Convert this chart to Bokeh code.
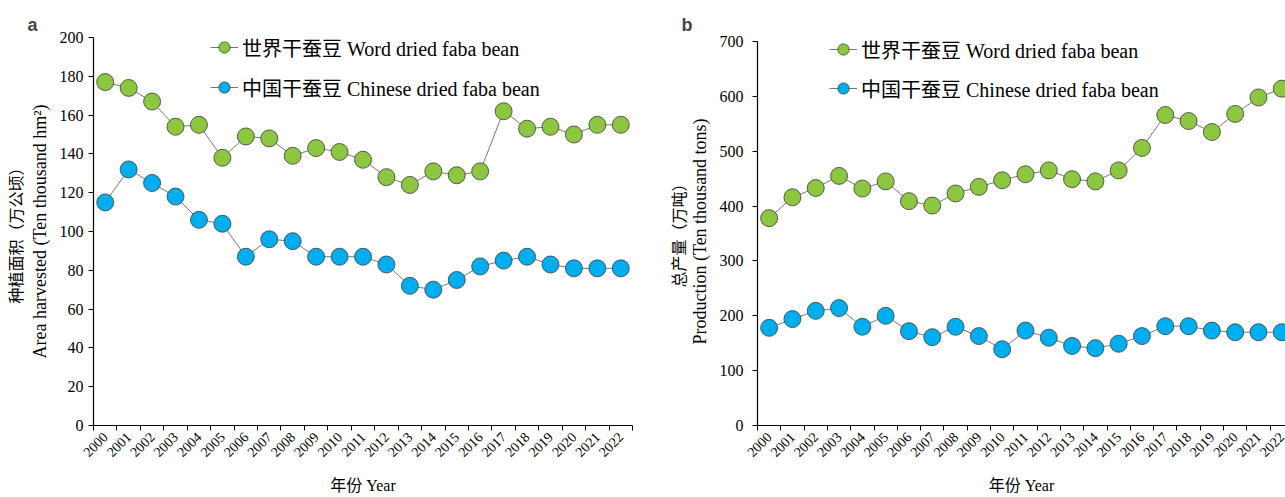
import math
from bokeh.plotting import figure
from bokeh.layouts import row
from bokeh.models import FixedTicker, Legend, LegendItem, ColumnDataSource, Range1d, Title
from bokeh.embed import file_html
from bokeh.resources import INLINE

# ---------------- data ----------------
years = list(range(2000, 2023))
year_labels = [str(y) for y in years]

area_world = [177, 174, 167, 154, 155, 138, 149, 148, 139, 143, 141, 137,
              128, 124, 131, 129, 131, 162, 153, 154, 150, 155, 155]
area_china = [115, 132, 125, 118, 106, 104, 87, 96, 95, 87, 87, 87,
              83, 72, 70, 75, 82, 85, 87, 83, 81, 81, 81]

prod_world = [378, 416, 433, 455, 432, 445, 409, 401, 423, 435, 447, 458,
              465, 449, 445, 465, 506, 566, 555, 535, 568, 598, 614]
prod_china = [178, 194, 209, 214, 180, 200, 172, 161, 180, 163, 139, 173,
              160, 145, 141, 149, 163, 181, 181, 173, 170, 170, 170]

world_label = "世界干蚕豆 Word dried faba bean"
china_label = "中国干蚕豆 Chinese dried faba bean"
x_title = "年份 Year"

SERIF = "Liberation Serif, Noto Sans CJK SC"
CJK = "Noto Sans CJK SC"
SANS_B = "Liberation Sans"
GREEN = "#8DC63F"
BLUE = "#00AEEF"
H = 497
TOP = 37


def panel(width, L, R, B, x_end, y_max, y_pad, y_step, world, china,
          letter, letter_offset, letter_standoff, cn_title, en_title,
          tick_standoff, en_standoff, cn_standoff, cn_offset,
          legend_loc, legend_spacing):
    p = figure(width=width, height=H, x_range=Range1d(0, x_end),
               y_range=Range1d(0, y_max + y_pad), output_backend="svg",
               toolbar_location=None,
               min_border_left=L, min_border_right=width - R,
               min_border_top=TOP, min_border_bottom=H - B)
    p.outline_line_color = None
    p.grid.visible = False
    p.background_fill_color = "white"
    p.border_fill_color = "white"

    # panel letter
    p.title.text = letter
    p.title.align = "left"
    p.title.offset = letter_offset
    p.title.text_font = SANS_B
    p.title.text_font_style = "bold"
    p.title.text_font_size = "18px"
    p.title.standoff = letter_standoff

    xs = [i + 0.5 for i in range(len(years))]
    src = ColumnDataSource(dict(x=xs, world=world, china=china))

    lw = p.line("x", "world", source=src, line_color="#777777", line_width=1)
    sw = p.scatter("x", "world", source=src, size=17, fill_color=GREEN,
                   line_color="#3a3a3a", line_width=0.8)
    lc = p.line("x", "china", source=src, line_color="#777777", line_width=1)
    sc = p.scatter("x", "china", source=src, size=17, fill_color=BLUE,
                   line_color="#3a3a3a", line_width=0.8)

    # x axis: labels centred in categories, ticks at boundaries
    xa = p.xaxis[0]
    xa.ticker = FixedTicker(ticks=xs, minor_ticks=list(range(len(years) + 1)))
    xa.major_label_overrides = {x: lab for x, lab in zip(xs, year_labels)}
    xa.major_tick_out = 0
    xa.major_tick_in = 0
    xa.minor_tick_out = 5
    xa.minor_tick_in = 0
    xa.minor_tick_line_color = "black"
    xa.major_label_orientation = math.pi / 4
    xa.major_label_text_font = SERIF
    xa.major_label_text_font_size = "14px"
    xa.major_label_text_color = "black"
    xa.major_label_standoff = 4
    xa.axis_line_color = "black"
    xa.axis_line_width = 1.2
    xa.axis_label = x_title
    xa.axis_label_text_font = SERIF
    xa.axis_label_text_font_size = "16px"
    xa.axis_label_text_font_style = "normal"
    xa.axis_label_text_color = "black"
    xa.axis_label_standoff = 13

    ya = p.yaxis[0]
    ya.ticker = FixedTicker(ticks=list(range(0, y_max + 1, y_step)))
    ya.bounds = (0, y_max)
    ya.minor_tick_line_color = None
    ya.major_tick_out = 5
    ya.major_tick_in = 0
    ya.major_tick_line_color = "black"
    ya.major_label_text_font = SERIF
    ya.major_label_text_font_size = "16px"
    ya.major_label_text_color = "black"
    ya.major_label_standoff = tick_standoff
    ya.axis_line_color = "black"
    ya.axis_line_width = 1.2
    ya.axis_label = en_title
    ya.axis_label_text_font = SERIF
    ya.axis_label_text_font_size = "18px"
    ya.axis_label_text_font_style = "normal"
    ya.axis_label_text_color = "black"
    ya.axis_label_standoff = en_standoff

    p.add_layout(Title(text=cn_title, align="center", text_font=CJK,
                       text_font_size="16px", text_font_style="normal",
                       text_color="black", standoff=cn_standoff,
                       offset=cn_offset), "left")

    legend = Legend(items=[LegendItem(label=world_label, renderers=[lw, sw]),
                           LegendItem(label=china_label, renderers=[lc, sc])],
                    location=legend_loc, border_line_color=None,
                    background_fill_alpha=0, padding=0, margin=0,
                    spacing=legend_spacing,
                    glyph_width=28, glyph_height=30, label_standoff=4,
                    label_text_font=SERIF, label_text_font_size="20px",
                    label_text_color="black")
    p.add_layout(legend, "center")
    return p


p1 = panel(width=640, L=93, R=632, B=427, x_end=23,
           y_max=200, y_pad=0, y_step=20, world=area_world, china=area_china,
           letter="a", letter_offset=-66, letter_standoff=6,
           cn_title="种植面积（万公顷）",
           en_title="Area harvested (Ten thousand hm²)",
           tick_standoff=5, en_standoff=7, cn_standoff=0, cn_offset=-9,
           legend_loc=(117, 323), legend_spacing=10)

p2 = panel(width=645, L=117, R=645, B=427, x_end=22.66,
           y_max=700, y_pad=7.3, y_step=100, world=prod_world, china=prod_china,
           letter="b", letter_offset=-76, letter_standoff=6,
           cn_title="总产量（万吨）",
           en_title="Production (Ten thousand tons)",
           tick_standoff=9, en_standoff=7, cn_standoff=-6, cn_offset=0,
           legend_loc=(72, 322), legend_spacing=9)

layout = row(p1, p2, spacing=0)
open("out.html", "w").write(file_html(layout, INLINE))
